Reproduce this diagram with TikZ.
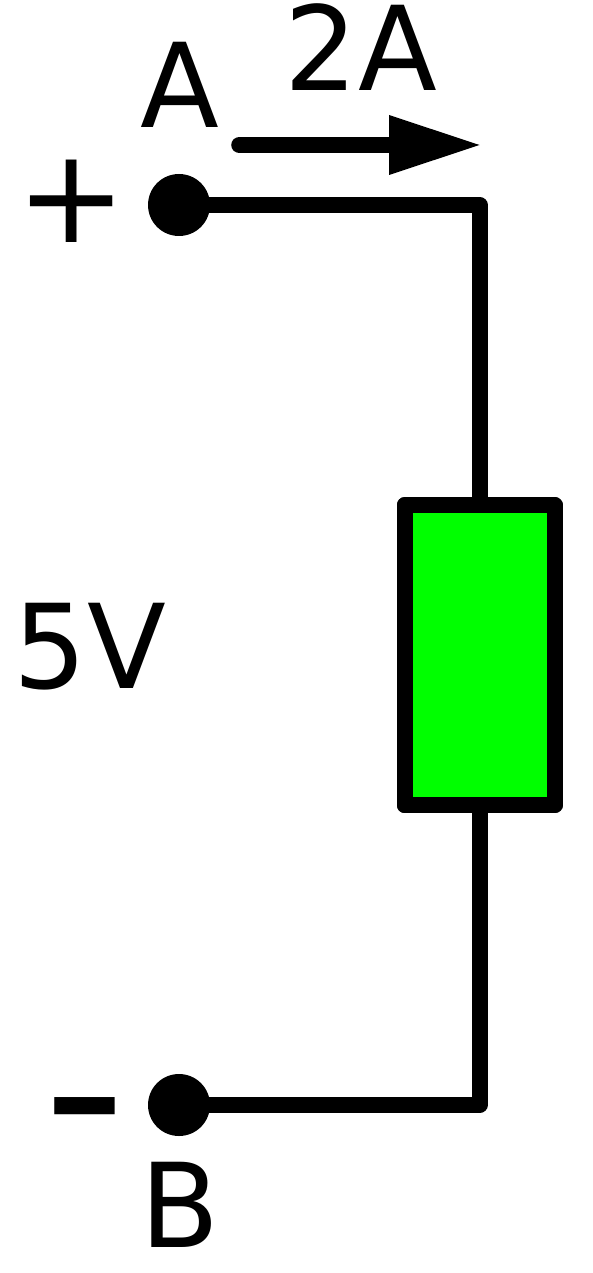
\documentclass[tikz,border=0pt]{standalone}
\usepackage{fontspec}
\setmainfont[FakeStretch=0.985]{DejaVu Sans}
\newfontfamily\plainface{DejaVu Sans}
\newfontfamily\boldface{DejaVu Sans Bold}
\tikzset{
  wire/.style={line width=16pt,line join=round,line cap=round},
  term/.style={circle,fill=black,draw=none,minimum size=62pt,inner sep=0pt},
  lab/.style={inner sep=0pt,font=\fontsize{117pt}{117pt}\selectfont,anchor=base},
  res/.style={rectangle,draw=black,fill=green,line width=16pt,line join=round,minimum width=150pt,minimum height=300pt,inner sep=0pt}
}
\begin{document}
\begin{tikzpicture}[x=1pt,y=-1pt]
\useasboundingbox (0,0) rectangle (593,1273);
\node[term] (A) at (179,205) {};
\node[term] (B) at (179,1105) {};
\node[res] (R) at (479.5,655.3) {};
\coordinate (tr) at (479.5,205);
\coordinate (br) at (479.5,1105);
\draw[wire] (A.center) -- (tr) -- (R.north);
\draw[wire] (R.south) -- (br) -- (B.center);
\node[res] at (479.5,655.3) {};
\coordinate (as) at (239.5,145);
\coordinate (ae) at (390,145);
\coordinate (at) at (479.5,145);
\draw[wire,line width=16.6pt] (as) -- (ae);
\fill (389,115) -- (at) -- (389,175) -- cycle;
\node[lab] (la) at (180,127.7) {A};
\node[lab] (lb) at (180,1247.5) {B};
\node[lab] (l2) at (361,90.8) {2A};
\node[lab] (l5) at (90,688) {5V};
\node[lab,font=\fontsize{131.5pt}{131.5pt}\plainface] (lp) at (71.5,243) {+};
\node[lab,font=\fontsize{124pt}{124pt}\boldface] (lm) at (85,1143.5) {\scalebox{1.24}[1.1]{–}};
\end{tikzpicture}
\end{document}
